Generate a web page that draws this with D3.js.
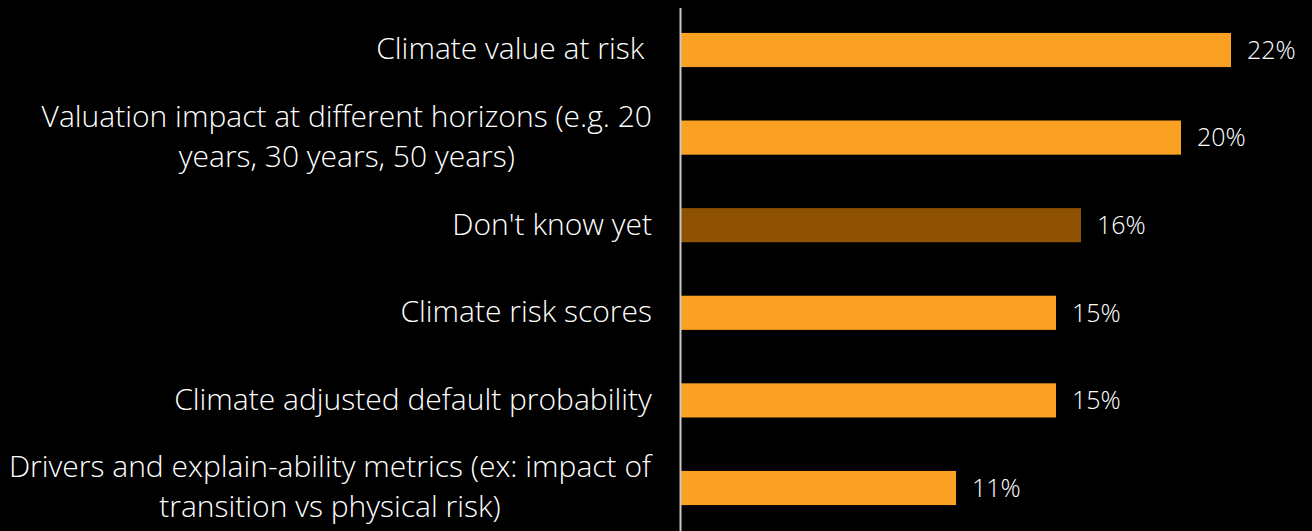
<!DOCTYPE html>
<html>
<head>
<meta charset="utf-8">
<script src="https://cdn.jsdelivr.net/npm/d3@7"></script>
<style>
  html, body { margin: 0; padding: 0; background: #000; }
  #chart { width: 1312px; height: 531px; }
  text { font-family: "Open Sans", "Noto Sans", sans-serif; font-weight: 300; fill: #fff; white-space: pre; }
</style>
</head>
<body>
<div id="chart"></div>
<script>
var categories = [
    "Climate value at risk ",
    "Valuation impact at different horizons (e.g. 20\nyears, 30 years, 50 years)",
    "Don't know yet",
    "Climate risk scores",
    "Climate adjusted default probability",
    "Drivers and explain-ability metrics (ex: impact of\ntransition vs physical risk)"
];
var values = [22, 20, 16, 15, 15, 11];
var highlighted = ["Don't know yet"];

function drawBars() {
    var divElement = document.getElementById("chart");
    var width = 1312;
    var height = 531;
    var axisX = 681;

    var svg = d3.select(divElement)
        .append("svg")
        .attr("width", width)
        .attr("height", height);

    var xScale = d3.scaleLinear().domain([0, 22]).range([axisX, 1231]);
    var yScale = d3.scaleBand()
        .domain(categories)
        .range([6.2, 531.8])
        .paddingInner(0.61)
        .paddingOuter(0.305);

    var rows = categories.map(function(c, i) { return { cat: c, val: values[i] }; });

    svg.selectAll("rect.bar")
        .data(rows)
        .enter()
        .append("rect")
        .attr("class", "bar")
        .attr("x", xScale(0))
        .attr("y", function(d) { return yScale(d.cat); })
        .attr("width", function(d) { return xScale(d.val) - xScale(0); })
        .attr("height", yScale.bandwidth())
        .attr("fill", function(d) { return highlighted.indexOf(d.cat) >= 0 ? "#8f5102" : "#faa023"; });

    // value labels
    svg.selectAll("text.val")
        .data(rows)
        .enter()
        .append("text")
        .attr("class", "val")
        .attr("x", function(d) { return xScale(d.val) + 16; })
        .attr("y", function(d) { return yScale(d.cat) + yScale.bandwidth() / 2; })
        .attr("dy", "0.35em")
        .style("font-size", "25px")
        .text(function(d) { return d.val + "%"; });

    // category labels: block right-aligned, lines centred inside the block
    var labelRight = 652;
    var lineHeight = 40;
    var labels = svg.selectAll("g.lab")
        .data(rows)
        .enter()
        .append("g")
        .attr("class", "lab");

    labels.each(function(d) {
        var g = d3.select(this);
        var lines = d.cat.split("\n");
        var cy = yScale(d.cat) + yScale.bandwidth() / 2;
        var t = g.append("text")
            .style("font-size", "30px")
            .attr("text-anchor", "middle");
        lines.forEach(function(line, i) {
            t.append("tspan")
                .attr("x", 0)
                .attr("y", cy + (i - (lines.length - 1) / 2) * lineHeight)
                .attr("dy", "0.31em")
                .text(line);
        });
        var w = t.node().getBBox().width;
        t.selectAll("tspan").attr("x", labelRight - w / 2);
    });

    svg.append("line")
        .attr("x1", axisX - 0.5)
        .attr("x2", axisX - 0.5)
        .attr("y1", 8)
        .attr("y2", height)
        .attr("stroke", "#c8c8c8")
        .attr("stroke-width", 2);
}

drawBars();
</script>
</body>
</html>
